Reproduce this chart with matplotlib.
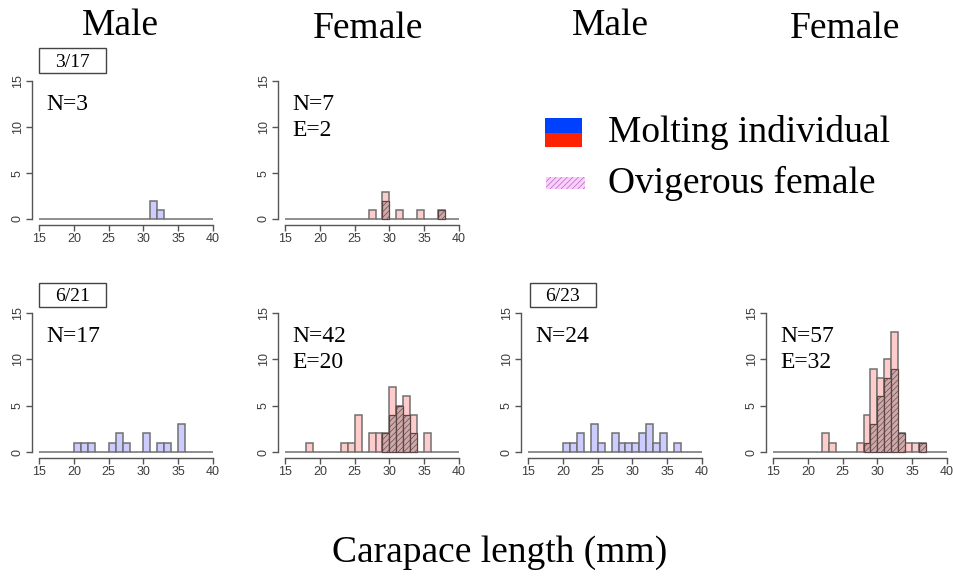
import numpy as np
import matplotlib
matplotlib.use('Agg')
import matplotlib.pyplot as plt
from matplotlib.patches import Rectangle

plt.rcParams['font.family'] = ['Liberation Serif', 'DejaVu Serif']
plt.rcParams['hatch.linewidth'] = 0.45

# histogram bins are 1 mm wide, from 15 to 40 mm
bin_edges = np.arange(15, 41)

# 3/17
m317_bins = [31, 32]
m317_n = [2, 1]
f317_bins = [27, 29, 31, 34, 37]
f317_n = [1, 3, 1, 1, 1]
f317_egg_bins = [29, 37]
f317_egg_n = [2, 1]

# 6/21
m621_bins = [20, 21, 22, 25, 26, 27, 30, 32, 33, 35]
m621_n = [1, 1, 1, 1, 2, 1, 2, 1, 1, 3]
f621_bins = [18, 23, 24, 25, 27, 28, 29, 30, 31, 32, 33, 35]
f621_n = [1, 1, 1, 4, 2, 2, 2, 7, 5, 6, 4, 2]
f621_egg_bins = [29, 30, 31, 32, 33]
f621_egg_n = [2, 4, 5, 4, 2]

# 6/23
m623_bins = [20, 21, 22, 24, 25, 27, 28, 29, 30, 31, 32, 33, 34, 36]
m623_n = [1, 1, 2, 3, 1, 2, 1, 1, 1, 2, 3, 1, 2, 1]
f623_bins = [22, 23, 27, 28, 29, 30, 31, 32, 33, 34, 35, 36]
f623_n = [2, 1, 1, 4, 9, 8, 10, 13, 2, 1, 1, 1]
f623_egg_bins = [28, 29, 30, 31, 32, 33, 36]
f623_egg_n = [1, 3, 6, 8, 9, 2, 1]

col_titles = ['Male', 'Female', 'Male', 'Female']
dates = ['3/17', '6/21', '6/23']

W, H = 954, 576
fig = plt.figure(figsize=(W / 100, H / 100), dpi=100)

MALE_FACE = '#ccccff'
FEMALE_FACE = '#ffcccc'
EDGE = '#707070'


def full_counts(bins, n):
    c = np.zeros(len(bin_edges) - 1)
    c[np.array(bins) - 15] = n
    return c


def make_ax(x15, top, bottom):
    left = x15 - 6.96
    ax = fig.add_axes([left / W, 1 - bottom / H, 188 / W, (bottom - top) / H])
    ax.set_xlim(14, 41)
    ax.set_ylim(-0.6, 15.6)
    for s in ['top', 'right']:
        ax.spines[s].set_visible(False)
    ax.spines['left'].set_bounds(0, 15)
    ax.spines['bottom'].set_bounds(15, 40)
    for s in ['left', 'bottom']:
        ax.spines[s].set_color('#555555')
        ax.spines[s].set_linewidth(1.0)
    ax.set_xticks(range(15, 41, 5))
    ax.set_yticks([0, 5, 10, 15])
    ax.tick_params(direction='out', length=4, width=1.0, color='#555555',
                   labelcolor='#3c3c3c', labelsize=9, pad=2)
    for lab in ax.get_yticklabels():
        lab.set_rotation(90)
        lab.set_va('center')
    for lab in ax.get_xticklabels() + ax.get_yticklabels():
        lab.set_fontfamily('Liberation Sans')
    ax.patch.set_alpha(0)
    return ax


def draw_hist(ax, bins, n, face):
    ax.bar(bin_edges[:-1], full_counts(bins, n), width=1, align='edge',
           color=face, edgecolor=EDGE, linewidth=1.1)


def draw_eggs(ax, bins, n):
    ax.bar(bins, n, width=1, align='edge', facecolor='#cfa9a9',
           edgecolor='#5a4444', hatch='//////', linewidth=0.9)


def counts_text(ax, N, E=None):
    ax.text(16.1, 11.9, 'N=%d' % N, fontsize=17, va='baseline', ha='left')
    if E is not None:
        ax.text(16.1, 9.1, 'E=%d' % E, fontsize=17, va='baseline', ha='left')


cols_x15 = [39, 285, 528, 773]
top_row = (76, 224.5)
bot_row = (307.4, 457.6)

ax1 = make_ax(cols_x15[0], *top_row)
draw_hist(ax1, m317_bins, m317_n, MALE_FACE)
counts_text(ax1, 3)

ax2 = make_ax(cols_x15[1], *top_row)
draw_hist(ax2, f317_bins, f317_n, FEMALE_FACE)
draw_eggs(ax2, f317_egg_bins, f317_egg_n)
counts_text(ax2, 7, 2)

ax3 = make_ax(cols_x15[0], *bot_row)
draw_hist(ax3, m621_bins, m621_n, MALE_FACE)
counts_text(ax3, 17)

ax4 = make_ax(cols_x15[1], *bot_row)
draw_hist(ax4, f621_bins, f621_n, FEMALE_FACE)
draw_eggs(ax4, f621_egg_bins, f621_egg_n)
counts_text(ax4, 42, 20)

ax5 = make_ax(cols_x15[2], *bot_row)
draw_hist(ax5, m623_bins, m623_n, MALE_FACE)
counts_text(ax5, 24)

ax6 = make_ax(cols_x15[3], *bot_row)
draw_hist(ax6, f623_bins, f623_n, FEMALE_FACE)
draw_eggs(ax6, f623_egg_bins, f623_egg_n)
counts_text(ax6, 57, 32)

# overlay in pixel coordinates for titles, date boxes and legend
ov = fig.add_axes([0, 0, 1, 1])
ov.set_xlim(0, W)
ov.set_ylim(H, 0)
ov.axis('off')
ov.patch.set_alpha(0)

title_x = [120, 368, 610, 845]
title_base = [35, 38, 35, 38]
for t, x, y in zip(col_titles, title_x, title_base):
    ov.text(x, y, t, fontsize=27, ha='center', va='baseline')

ov.text(500, 562, 'Carapace length (mm)', fontsize=27, ha='center', va='baseline')

date_boxes = [(39, 48, 67, 25), (39, 283, 67, 24), (530, 283, 66, 24)]
for d, (x, y, w, h) in zip(dates, date_boxes):
    ov.add_patch(Rectangle((x, y), w, h, facecolor='white', edgecolor='#444444', lw=1.0))
    ov.text(x + w / 2, y + h - 6, d, fontsize=14, ha='center', va='baseline')

# legend
ov.add_patch(Rectangle((545, 118), 37, 14.5, facecolor='#0040ff', edgecolor='none'))
ov.add_patch(Rectangle((545, 132.5), 37, 14.5, facecolor='#ff2200', edgecolor='none'))
ov.text(608, 142, 'Molting individual', fontsize=27, ha='left', va='baseline')
ov.add_patch(Rectangle((546, 177), 39, 12, facecolor='#ffccff', edgecolor='#9a6aaa',
                       hatch='//////', lw=0))
ov.text(608, 193, 'Ovigerous female', fontsize=27, ha='left', va='baseline')

fig.savefig('out.png', dpi=100)
